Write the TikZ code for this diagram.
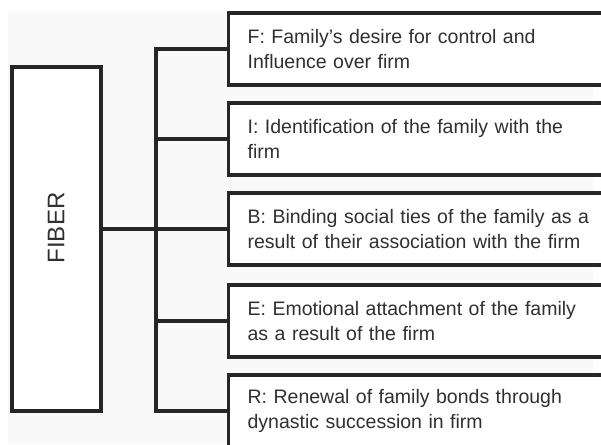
\documentclass[tikz,border=0pt]{standalone}
\usepackage{fontspec}
\setmainfont{Liberation Sans}
\definecolor{linec}{HTML}{262626}
\definecolor{textc}{HTML}{303030}
\definecolor{bgc}{HTML}{F9F9F9}
\begin{document}
\begin{tikzpicture}[x=1pt,y=-1pt,
  conn/.style={draw=linec,line width=3.2pt,line join=miter},
  itembox/.style={draw=linec,line width=3.2pt,fill=white,rectangle,anchor=west,
    minimum width=392pt,minimum height=72pt,inner xsep=18pt,inner ysep=0pt,
    text width=354pt,align=left,text=textc,
    font=\fontsize{19.5}{25}\selectfont},
  mainbox/.style={draw=linec,line width=3.2pt,fill=white,rectangle,
    minimum width=89pt,minimum height=344pt,inner sep=0pt},
  maintext/.style={text=textc,rotate=90,font=\fontsize{24}{28}\selectfont,inner sep=0pt}]
\useasboundingbox (0,0) rectangle (601,444);
\clip (0,0) rectangle (601,444);
\fill[bgc] (8,12) rectangle (593,444);
\node[mainbox] (fiber) at (56.5,239) {};
\node[maintext] (fibertext) at (56,228) {FIBER};
\node[itembox] (F) at (227,49) {F: Family's desire for control and\\Influence over firm};
\node[itembox] (I) at (227,139) {I: Identification of the family with the\\firm};
\node[itembox] (B) at (227,229) {B: Binding social ties of the family as a\\result of their association with the firm};
\node[itembox] (E) at (227,321) {E: Emotional attachment of the family\\as a result of the firm};
\node[itembox] (R) at (227,411) {R: Renewal of family bonds through\\dynastic succession in firm};
\coordinate (bus) at (156,0);
\draw[conn] (F.west) -- (F.west -| bus) -- (R.west -| bus) -- (R.west);
\draw[conn] (I.west -| bus) -- (I.west);
\draw[conn] (E.west -| bus) -- (E.west);
\draw[conn] (fiber.east |- B.west) -- (B.west);
\end{tikzpicture}
\end{document}
